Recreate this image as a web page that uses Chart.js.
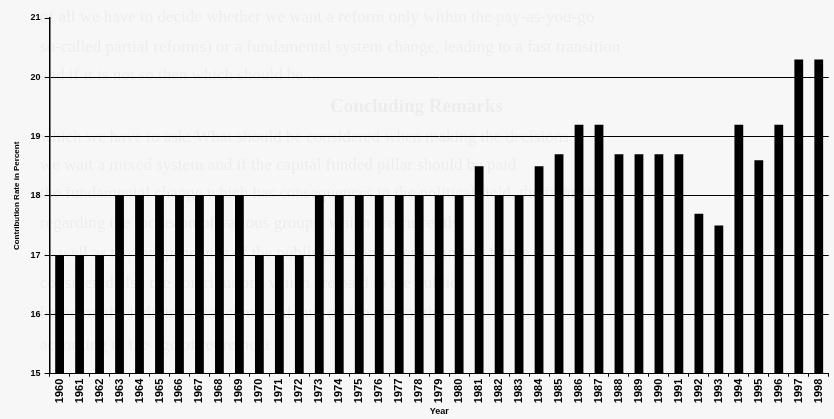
<!DOCTYPE html>
<html>
<head>
<meta charset="utf-8">
<script src="https://cdn.jsdelivr.net/npm/chart.js@4/dist/chart.umd.min.js"></script>
<style>
  html, body { margin: 0; padding: 0; background: #f7f7f7; }
  #wrap { position: relative; width: 834px; height: 419px; }
</style>
</head>
<body>
<div id="wrap"><canvas id="c" width="834" height="419"></canvas></div>
<script>
const years = ["1960","1961","1962","1963","1964","1965","1966","1967","1968","1969",
  "1970","1971","1972","1973","1974","1975","1976","1977","1978","1979",
  "1980","1981","1982","1983","1984","1985","1986","1987","1988","1989",
  "1990","1991","1992","1993","1994","1995","1996","1997","1998"];
const contributionRate = [17,17,17,18,18,18,18,18,18,18,
  17,17,17,18,18,18,18,18,18,18,
  18,18.5,18,18,18.5,18.7,19.2,19.2,18.7,18.7,
  18.7,18.7,17.7,17.5,19.2,18.6,19.2,20.3,20.3];
const yTicks = [15,16,17,18,19,20,21];
const yAxisTitle = "Contribution Rate in Percent";
const xAxisTitle = "Year";
const bleedLines = [
  "of all we have to decide whether we want a reform only within the pay-as-you-go",
  "so-called partial reforms) or a fundamental system change, leading to a fast transition",
  "and if it is not so then which should be ...",
  "Concluding Remarks",
  "which we have to ask: What should be considered when making the decisions",
  "we wait a mixed system and if the capital funded pillar should be paid",
  "the fundamental change which has consequences in the political field, the financial",
  "regarding the inclusion of various groups, which are currently",
  "as well as the independence of the public pension scheme, and its future",
  "considered also the contributions which are paid to the public",
  "based on the individual's income and thus on the size of the",
  "according to the age of retirement"
];

const bgPlugin = {
  id: 'bg',
  beforeDraw(chart) {
    const ctx = chart.ctx;
    ctx.save();
    ctx.fillStyle = '#f7f7f7';
    ctx.fillRect(0, 0, chart.width, chart.height);
    ctx.fillStyle = 'rgba(0,0,0,0.045)';
    const ys = [22, 52, 80, 112, 142, 170, 198, 228, 258, 288, 318, 350];
    bleedLines.forEach((t, i) => {
      ctx.font = i === 3 ? 'bold 19px "Liberation Serif"' : '17px "Liberation Serif"';
      ctx.fillText(t, i === 3 ? 330 : 40, ys[i]);
    });
    ctx.restore();
  }
};

new Chart(document.getElementById('c'), {
  type: 'bar',
  data: {
    labels: years,
    datasets: [{
      data: contributionRate,
      backgroundColor: '#000000',
      borderWidth: 0,
      barPercentage: 0.44,
      categoryPercentage: 1.0
    }]
  },
  options: {
    responsive: false,
    animation: false,
    layout: { padding: { left: 12, right: 4, top: 18, bottom: 2 } },
    plugins: { legend: { display: false }, tooltip: { enabled: false } },
    scales: {
      x: {
        grid: { display: true, drawOnChartArea: false, color: '#000', tickLength: 3, offset: true },
        border: { display: true, color: '#000', width: 1 },
        ticks: { color: '#000', font: { family: 'Liberation Sans', size: 11, weight: 'bold' }, maxRotation: 90, minRotation: 90, autoSkip: false, padding: 2 },
        title: { display: true, text: xAxisTitle, color: '#000', font: { family: 'Liberation Sans', size: 9, weight: 'bold' }, padding: { top: 1, bottom: 0 } }
      },
      y: {
        min: 15, max: 21,
        afterBuildTicks(axis) { axis.ticks = yTicks.map(v => ({ value: v })); },
        grid: {
          color: (c) => (c.tick && c.tick.value === 21) ? 'rgba(0,0,0,0)' : '#000',
          tickColor: '#000',
          lineWidth: 1,
          tickLength: 5
        },
        border: { display: true, color: '#000', width: 1.5 },
        ticks: { color: '#000', font: { family: 'Liberation Sans', size: 9, weight: 'bold' }, padding: 4 },
        title: { display: true, text: yAxisTitle, color: '#000', font: { family: 'Liberation Sans', size: 8, weight: 'bold' }, padding: { top: 0, bottom: 5 } }
      }
    }
  },
  plugins: [bgPlugin]
});
</script>
</body>
</html>
